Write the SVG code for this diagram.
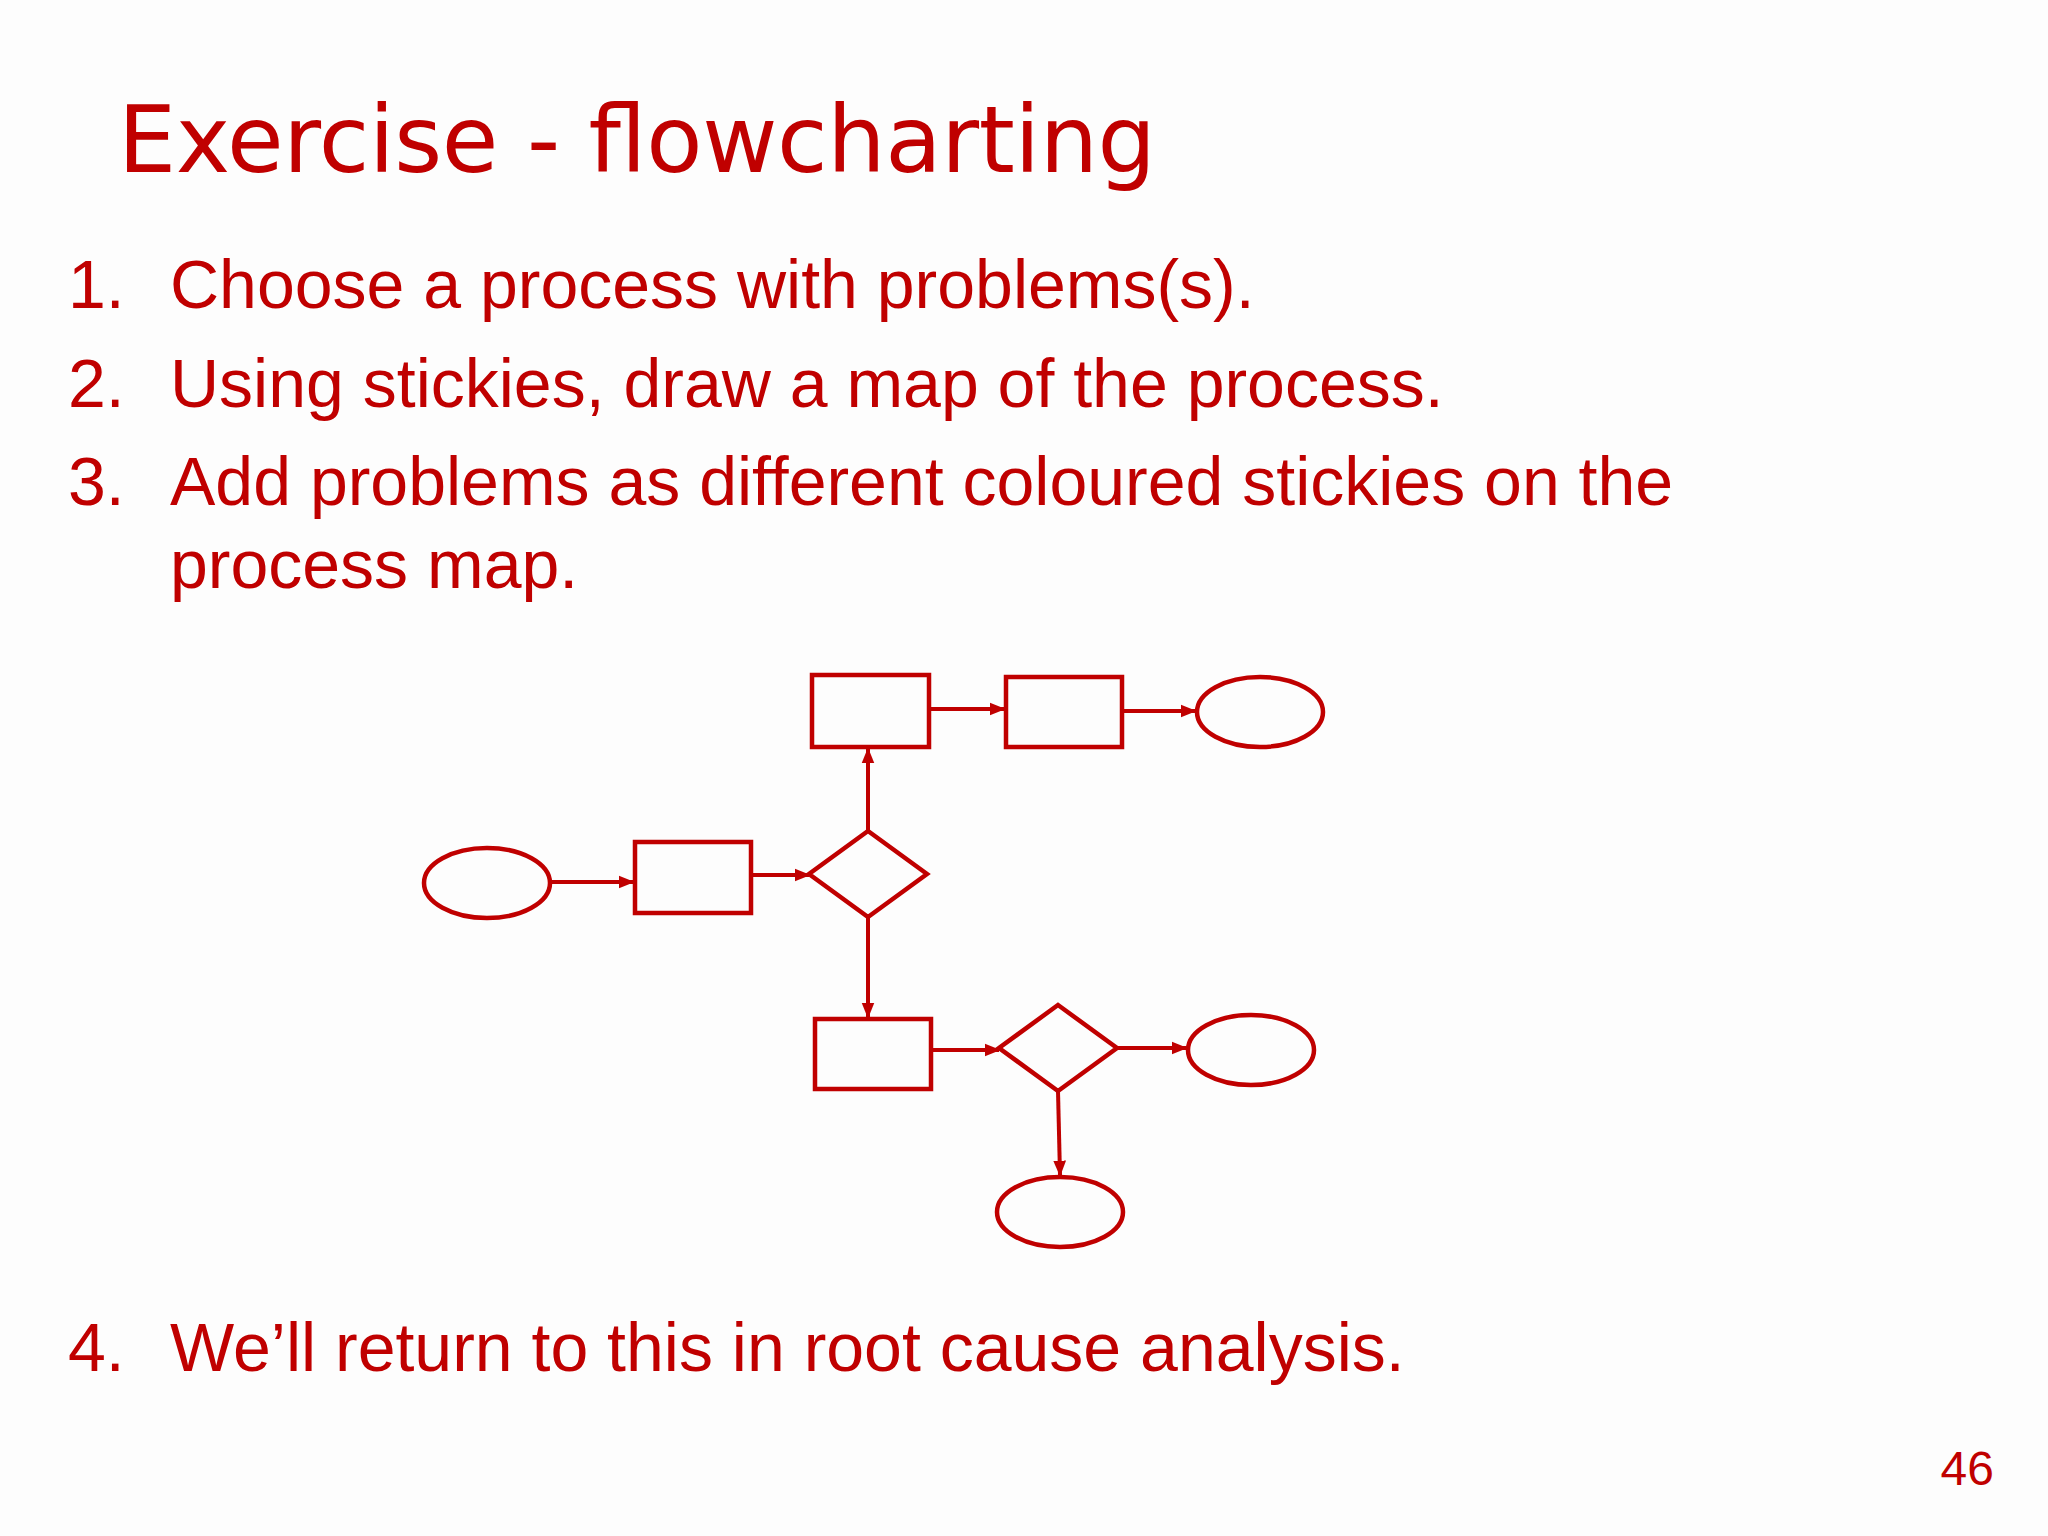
<svg xmlns="http://www.w3.org/2000/svg" width="2048" height="1536" viewBox="0 0 2048 1536">
<style>
.t{fill:#C00000;font-family:"Liberation Sans",Arial,sans-serif;font-size:68px}
.s{fill:none;stroke:#C00000;stroke-width:4.5}
.c{stroke:#C00000;stroke-width:4;fill:none}
</style>
<defs><marker id="a" viewBox="0 0 10 10" refX="9" refY="5" markerWidth="4" markerHeight="4" orient="auto" markerUnits="strokeWidth"><path d="M0,1 L10,5 L0,9 z" fill="#C00000"/></marker></defs>
<rect width="2048" height="1536" fill="#fdfdfd"/>
<text x="118" y="172" style="fill:#C00000;font-family:'DejaVu Sans',Verdana,sans-serif;font-size:92px" textLength="1038">Exercise - flowcharting</text>
<text class="t" x="68" y="308">1.</text><text class="t" x="170" y="308">Choose a process with problems(s).</text>
<text class="t" x="68" y="407">2.</text><text class="t" x="170" y="407">Using stickies, draw a map of the process.</text>
<text class="t" x="68" y="505">3.</text><text class="t" x="170" y="505">Add problems as different coloured stickies on the</text>
<text class="t" x="170" y="588">process map.</text>
<text class="t" x="68" y="1371">4.</text><text class="t" x="170" y="1371">We’ll return to this in root cause analysis.</text>
<text x="1994" y="1485" text-anchor="end" style="fill:#C00000;font-family:'Liberation Sans',Arial,sans-serif;font-size:48px">46</text>
<g id="r1"><rect class="s" x="812" y="675" width="117" height="72"/></g>
<g id="r2"><rect class="s" x="1006" y="677" width="116" height="70"/></g>
<g id="e1"><ellipse class="s" cx="1260" cy="712" rx="63" ry="35"/></g>
<g id="e0"><ellipse class="s" cx="487" cy="883" rx="63" ry="35"/></g>
<g id="r3"><rect class="s" x="635" y="842" width="116" height="71"/></g>
<g id="d1"><polygon class="s" points="868,831 927,874 868,917 809,874"/></g>
<g id="r4"><rect class="s" x="815" y="1019" width="116" height="70"/></g>
<g id="d2"><polygon class="s" points="1058,1005 1117,1048 1058,1091 999,1048"/></g>
<g id="e2"><ellipse class="s" cx="1251" cy="1050" rx="63" ry="35"/></g>
<g id="e3"><ellipse class="s" cx="1060" cy="1212" rx="63" ry="35"/></g>
<g id="connectors">
<line class="c" x1="929" y1="709" x2="1004" y2="709" marker-end="url(#a)"/>
<line class="c" x1="1122" y1="711" x2="1195" y2="711" marker-end="url(#a)"/>
<line class="c" x1="550" y1="882" x2="633" y2="882" marker-end="url(#a)"/>
<line class="c" x1="751" y1="875" x2="809" y2="875" marker-end="url(#a)"/>
<line class="c" x1="868" y1="831" x2="868" y2="749" marker-end="url(#a)"/>
<line class="c" x1="868" y1="917" x2="868" y2="1017" marker-end="url(#a)"/>
<line class="c" x1="931" y1="1050" x2="999" y2="1050" marker-end="url(#a)"/>
<line class="c" x1="1117" y1="1048" x2="1186" y2="1048" marker-end="url(#a)"/>
<line class="c" x1="1058" y1="1091" x2="1060" y2="1175" marker-end="url(#a)"/>
</g>
</svg>
